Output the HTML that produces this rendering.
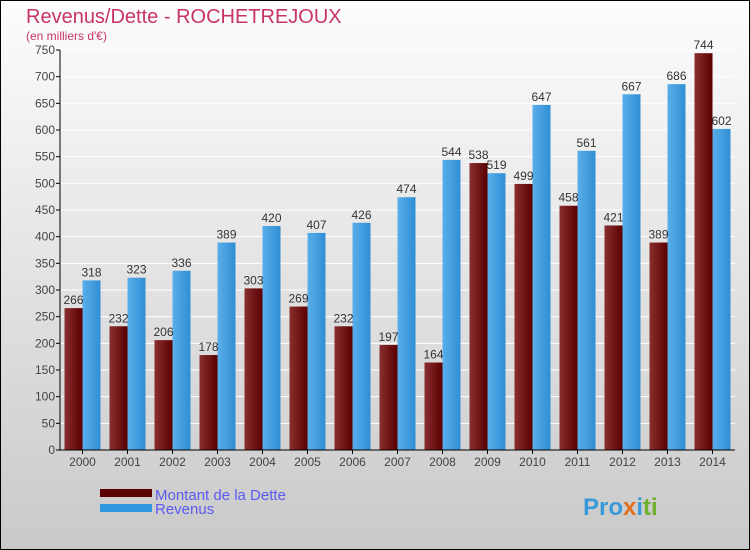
<!DOCTYPE html>
<html><head><meta charset="utf-8"><style>
body{margin:0}
#c{width:750px;height:550px;position:relative;overflow:hidden}
text{font-family:"Liberation Sans",sans-serif}
</style></head><body>
<div id="c">
<svg id="s" width="750" height="550" xmlns="http://www.w3.org/2000/svg">
<defs>
<linearGradient id="bg" x1="0" y1="0" x2="0" y2="1"><stop offset="0" stop-color="#fdfdfd"/><stop offset="1" stop-color="#c9c9c9"/></linearGradient>
<linearGradient id="gd" x1="0" y1="0" x2="1" y2="0"><stop offset="0" stop-color="#8a2f2f"/><stop offset="1" stop-color="#5a0000"/></linearGradient>
<linearGradient id="gr" x1="0" y1="0" x2="1" y2="0"><stop offset="0" stop-color="#5aaeea"/><stop offset="1" stop-color="#2f8ed4"/></linearGradient>
</defs>
<rect x="0.5" y="0.5" width="749" height="549" fill="url(#bg)" stroke="#000"/>
<text x="26" y="23" font-size="20" fill="#c8336a">Revenus/Dette - ROCHETREJOUX</text>
<text x="26" y="40" font-size="12" fill="#c8336a">(en milliers d'€)</text>
<g id="plot"></g>
<rect x="100" y="489" width="52" height="8" fill="#5a0000"/>
<text x="155" y="500" font-size="15" fill="#5a5af0">Montant de la Dette</text>
<rect x="100" y="504" width="52" height="8" fill="#2f98e0"/>
<text x="155" y="514" font-size="15" fill="#5a5af0">Revenus</text>
<text x="583" y="515" font-size="24" font-weight="bold" fill="#3a9ad9">Pro<tspan fill="#e07020">x</tspan><tspan fill="#3a9ad9">i</tspan><tspan fill="#70b030">ti</tspan></text>
</svg>
</div>
<script>
const years=["2000","2001","2002","2003","2004","2005","2006","2007","2008","2009","2010","2011","2012","2013","2014"];
const dette=[266,232,206,178,303,269,232,197,164,538,499,458,421,389,744];
const revenus=[318,323,336,389,420,407,426,474,544,519,647,561,667,686,602];
const yTicks=[0,50,100,150,200,250,300,350,400,450,500,550,600,650,700,750];
const NS="http://www.w3.org/2000/svg";
const g=document.getElementById('plot');
const x0=60,y0=450,gw=45,yMax=750,ph=400;
const y=v=>y0-v/yMax*ph;
function mk(t,a){const e=document.createElementNS(NS,t);for(const k in a)e.setAttribute(k,a[k]);g.appendChild(e);return e;}
yTicks.forEach(v=>{
  const l=mk('line',{x1:x0,x2:x0+675,y1:y(v),y2:y(v),stroke:'#fff','stroke-width':1});
  
  
  const tk=mk('line',{x1:x0-4,x2:x0,y1:y(v),y2:y(v),stroke:'#000'});
  
  
  const t=mk('text',{x:x0-5,y:y(v)+4,'font-size':12,fill:'#444','text-anchor':'end'});
  t.textContent=v;
  
  
});
years.forEach((yr,i)=>{
  const cx=x0+gw*i+gw/2;
  const b1=mk('rect',{x:cx-18,y:y(dette[i]),width:18,height:y0-y(dette[i]),fill:'url(#gd)'});
  
  
  const b2=mk('rect',{x:cx,y:y(revenus[i]),width:18,height:y0-y(revenus[i]),fill:'url(#gr)'});
  
  
  const t1=mk('text',{x:cx-9,y:y(dette[i])-4,'font-size':12,fill:'#333','text-anchor':'middle'});
  t1.textContent=dette[i];
  
  
  const t2=mk('text',{x:cx+9,y:y(revenus[i])-4,'font-size':12,fill:'#333','text-anchor':'middle'});
  t2.textContent=revenus[i];
  
  
  const xt=mk('line',{x1:cx,x2:cx,y1:y0,y2:y0+4,stroke:'#000'});
  
  
  const xl=mk('text',{x:cx,y:y0+16,'font-size':12,fill:'#444','text-anchor':'middle'});
  xl.textContent=yr;
  
  
});
const ya=mk('line',{x1:x0,x2:x0,y1:y(yMax),y2:y0,stroke:'#000'});


const xa=mk('line',{x1:x0,x2:x0+675,y1:y0,y2:y0,stroke:'#000'});


</script>
</body></html>
